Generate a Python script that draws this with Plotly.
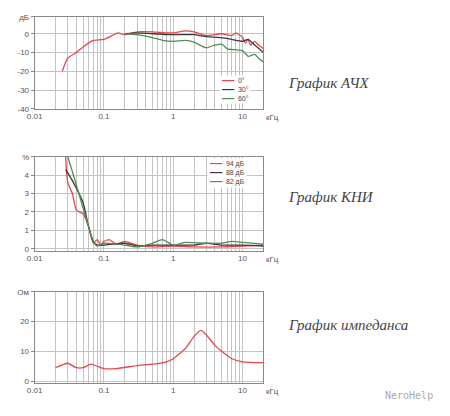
import plotly.graph_objects as go
import numpy as np

# АЧХ
f0 = [0.025,0.03,0.04,0.05,0.07,0.1,0.13,0.16,0.2,0.3,0.5,0.8,1,1.5,2,3,5,7,8,10,11,12,13,15,17,20]
a0 = [-20,-13,-10,-7,-3.5,-3,-1,0.5,-0.5,1,1,0.5,0.5,1.5,1,-1,0,-1,0.5,-2,-5,-3,-6,-4,-6,-8]
f30 = [0.2,0.3,0.5,1,2,3,5,7,10,12,15,20]
a30 = [0,0.5,0,-0.5,-0.5,-1.5,-2,-3,-4,-3,-6,-10]
f60 = [0.2,0.3,0.5,0.7,1,1.5,2,3,4,5,6,8,10,12,15,17,20]
a60 = [0,-0.5,-2,-3.5,-4,-3.5,-4.5,-7.5,-6,-5.5,-8,-8.5,-9,-12,-11,-13,-15]
# КНИ
fk94 = [0.028,0.03,0.035,0.04,0.05,0.06,0.07,0.08,0.09,0.1,0.12,0.15,0.2,0.3,0.5,1,2,5,10,20]
k94 = [5,3.6,3,2.1,1.9,1.2,0.3,0.5,0.2,0.4,0.5,0.25,0.4,0.2,0.1,0.15,0.1,0.1,0.15,0.2]
fk88 = [0.028,0.035,0.05,0.06,0.07,0.08,0.1,0.2,0.3,0.5,1,2,3,5,10,20]
k88 = [4.3,3.7,2.5,1.2,0.4,0.2,0.2,0.3,0.15,0.2,0.2,0.2,0.3,0.2,0.2,0.15]
fk82 = [0.03,0.035,0.05,0.06,0.07,0.08,0.1,0.2,0.3,0.5,0.7,1,1.5,3,5,7,10,20]
k82 = [5,4.2,2.2,1.2,0.4,0.15,0.3,0.2,0.1,0.3,0.5,0.2,0.35,0.3,0.3,0.4,0.35,0.25]
# Импеданс
fz = [0.02,0.03,0.04,0.05,0.065,0.08,0.1,0.15,0.3,0.5,0.8,1,1.5,2,2.5,3,4,5,7,10,20]
z = [4.5,6,4.5,4.5,5.7,5,4.2,4.2,5.2,5.7,6.5,7.5,11,15,17,15.5,12,10,7.5,6.5,6.2]
legend1 = ["0°", "30°", "60°"]
legend2 = ["94 дБ", "88 дБ", "82 дБ"]

RED, DARK, GREEN = "#e8474c", "#3a3a3a", "#4f8f55"
COLS = [RED, DARK, GREEN]
W, H, OFF = 442, 408, 8
def px(x): return (x - OFF - 5) / W
def py(y): return 1 - (y - OFF) / H

fig = go.Figure()
def line(x, y, c, ax):
    fig.add_trace(go.Scatter(x=x, y=y, mode="lines", line=dict(color=c, width=1.3, shape="spline", smoothing=0.5),
                             xaxis="x"+ax, yaxis="y"+ax, showlegend=False, hoverinfo="skip"))
line(f0, a0, RED, ""); line(f30, a30, DARK, ""); line(f60, a60, GREEN, "")
line(fk94, k94, RED, "2"); line(fk88, k88, DARK, "2"); line(fk82, k82, GREEN, "2")
line(fz, z, RED, "3")

xv = [m*10.0**e for e in range(-2,2) for m in range(1,10)]
xt = [("%g" % (m*10.0**e) if m == 1 else "") for e in range(-2,2) for m in range(1,10)]
xcommon = dict(type="log", range=[-2, np.log10(20)], tickvals=xv, ticktext=xt, showgrid=True,
               gridcolor="#c4c4c4", gridwidth=1, showline=True, linecolor="#888", mirror=True,
               tickfont=dict(size=8, color="#555"), ticks="", zeroline=False)
ycommon = dict(showgrid=True, gridcolor="#c4c4c4", showline=True, linecolor="#888", mirror=True,
               tickfont=dict(size=8, color="#555"), ticks="outside", ticklen=3, tickcolor="#888", zeroline=False)
dom = [px(32), px(265)]
fig.update_layout(
    width=W, height=H, margin=dict(l=0, r=0, t=0, b=0),
    paper_bgcolor="white", plot_bgcolor="white", font=dict(family="Liberation Sans"),
    xaxis=dict(domain=dom, anchor="y", **xcommon),
    yaxis=dict(domain=[py(107), py(13)], anchor="x", range=[-40, 9], tickvals=[-40,-30,-20,-10,0,9],
               ticktext=["-40","-30","-20","-10","0","дБ"], **ycommon),
    xaxis2=dict(domain=dom, anchor="y2", **xcommon),
    yaxis2=dict(domain=[py(252), py(156)], anchor="x2", range=[-0.1, 5], tickvals=[0,1,2,3,4,5],
                ticktext=["0","1","2","3","4","%"], **ycommon),
    xaxis3=dict(domain=dom, anchor="y3", **xcommon),
    yaxis3=dict(domain=[py(387), py(294)], anchor="x3", range=[-0.5, 30], tickvals=[0,10,20,30],
                ticktext=["0","10","20","Ом"], **ycommon),
)
for yb in [107, 252, 387]:
    fig.add_annotation(text="кГц", x=px(266), y=py(yb + 2), xref="paper", yref="paper", xanchor="left",
                       yanchor="top", showarrow=False, font=dict(size=8, color="#555"))
def legend(names, x, y):
    txt = "<br>".join("<span style='color:%s'>━━━</span>  %s" % (c, n) for c, n in zip(COLS, names))
    fig.add_annotation(text=txt, x=px(x), y=py(y), xref="paper", yref="paper", xanchor="left", yanchor="top",
                       align="left", showarrow=False, bgcolor="white", font=dict(size=7, color="#444"))
legend(legend1, 220, 72)
legend(legend2, 208, 157)
fs = dict(family="Liberation Serif", size=15, color="#444")
for txt, x, y in [("График АЧХ", 288, 70), ("График КНИ", 288, 197), ("График импеданса", 288, 338)]:
    fig.add_annotation(text="<i>"+txt+"</i>", x=px(x), y=py(y), xref="paper", yref="paper",
                       xanchor="left", showarrow=False, font=fs)
fig.add_annotation(text="NeroHelp", x=px(440), y=py(400), xref="paper", yref="paper", xanchor="right",
                   yanchor="middle", showarrow=False, font=dict(family="DejaVu Sans Mono", size=10, color="#aaa"))
fig.write_html("out.html")
